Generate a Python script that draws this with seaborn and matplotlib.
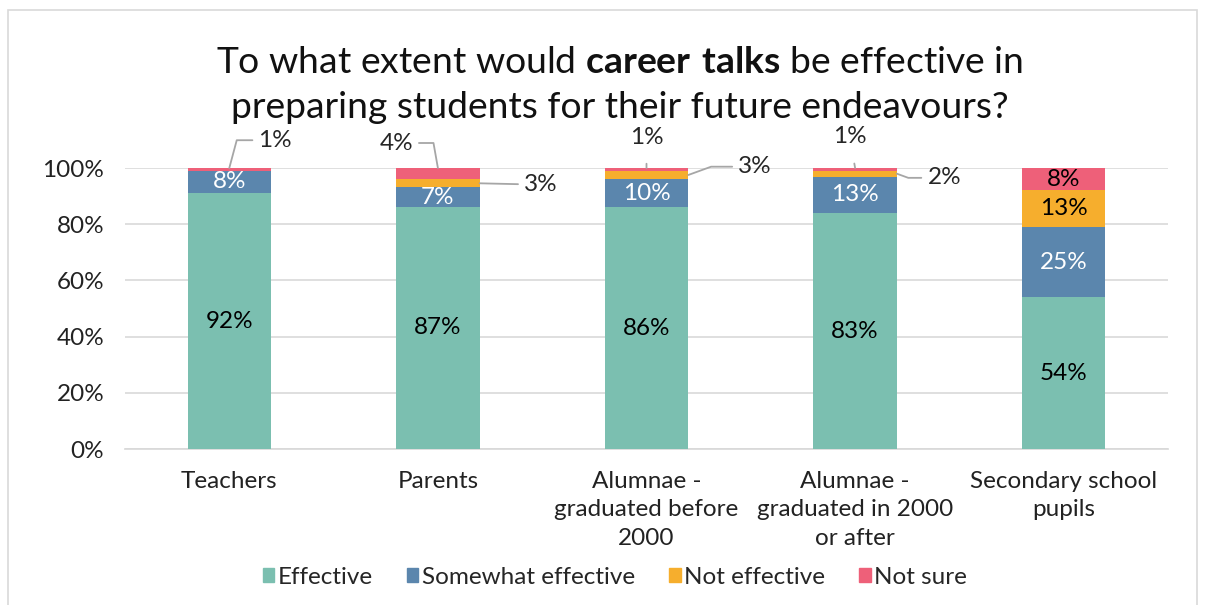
import numpy as np
import pandas as pd
import matplotlib
matplotlib.use("Agg")
import matplotlib.pyplot as plt
import seaborn as sns
from matplotlib.patches import Rectangle

categories = ["Teachers", "Parents", "Alumnae -\ngraduated before\n2000",
              "Alumnae -\ngraduated in 2000\nor after", "Secondary school\npupils"]
series_names = ["Effective", "Somewhat effective", "Not effective", "Not sure"]
effective = [92, 87, 86, 83, 54]
somewhat = [8, 7, 10, 13, 25]
not_effective = [0, 3, 3, 2, 13]
not_sure = [1, 4, 1, 1, 8]
colors = ["#7BBFB0", "#5B86AD", "#F6AE2D", "#EE6079"]
label_colors = ["black", "white", "black", "black"]
yticks = [0, 20, 40, 60, 80, 100]

sns.set_theme(style="white")
plt.rcParams['font.family'] = ['Lato', 'DejaVu Sans']
plt.rcParams['mathtext.fontset'] = 'custom'
plt.rcParams['mathtext.rm'] = 'Lato'
plt.rcParams['mathtext.bf'] = 'Lato:bold'

raw = np.array([effective, somewhat, not_effective, not_sure], dtype=float)
share = raw / raw.sum(axis=0) * 100  # 100% stacked
cum = np.cumsum(share, axis=0)
bottoms = cum - share

fig = plt.figure(figsize=(12.05, 6.05), dpi=100)
ax = fig.add_axes([125/1205, 156/605, 1043/1205, 281/605])

for i in reversed(range(4)):
    d = pd.DataFrame({"cat": categories, "top": cum[i]})
    sns.barplot(data=d, x="cat", y="top", color=colors[i], width=0.4,
                saturation=1, ax=ax, linewidth=0, zorder=3)

FS = 17.5
ax.set_ylim(0, 100)
ax.set_xlim(-0.5, 4.5)
ax.set_yticks(yticks)
ax.set_yticklabels([f"{v}%" for v in yticks], fontsize=FS, color="#222222")
ax.tick_params(axis='y', length=0, pad=15)
ax.set_xticks(range(5))
ax.set_xticklabels(categories, fontsize=FS, color="#222222", linespacing=1.42)
ax.tick_params(axis='x', length=0, pad=16)
ax.set_xlabel("")
ax.set_ylabel("")
for s in ["top", "right", "left"]:
    ax.spines[s].set_visible(False)
ax.spines["bottom"].set_color("#D9D9D9")
ax.grid(axis='y', color="#D9D9D9", linewidth=1.2, zorder=0)
ax.set_axisbelow(True)

# inside labels
fs = 17.5
for j in range(5):
    for i in range(4):
        if share[i, j] >= 5:
            ax.text(j, bottoms[i, j] + share[i, j] / 2, f"{int(raw[i, j])}%",
                    ha="center", va="center", fontsize=fs, color=label_colors[i], zorder=5)

LC = "#A6A6A6"
def ap(conn=None, shrinkA=2):
    d = dict(arrowstyle="-", color=LC, lw=1.3, shrinkA=shrinkA, shrinkB=0)
    if conn:
        d["connectionstyle"] = conn
    return d

# Teachers not sure 1%
ax.annotate(f"{int(raw[3,0])}%", xy=(0, 100), xytext=(21, 20), textcoords="offset points",
            ha="left", va="center", fontsize=fs, annotation_clip=False,
            arrowprops=ap("angle,angleA=180,angleB=75,rad=0"))
# Parents not sure 4%
ax.annotate(f"{int(raw[3,1])}%", xy=(1, 100), xytext=(-18, 18), textcoords="offset points",
            ha="right", va="center", fontsize=fs, annotation_clip=False,
            arrowprops=ap("angle,angleA=0,angleB=100,rad=0"))
# Parents not effective 3%
ax.annotate(f"{int(raw[2,1])}%", xy=(1.2, bottoms[2,1] + share[2,1]/2), xytext=(32, -1),
            textcoords="offset points", ha="left", va="center", fontsize=fs, annotation_clip=False,
            arrowprops=ap())
# Alumnae before not sure 1%
ax.annotate(f"{int(raw[3,2])}%", xy=(2, 100), xytext=(0, 22), textcoords="offset points",
            ha="center", va="center", fontsize=fs, annotation_clip=False,
            arrowprops=ap(shrinkA=9))
# Alumnae before not effective 3%
ax.annotate(f"{int(raw[2,2])}%", xy=(2.2, bottoms[2,2] + share[2,2]/2), xytext=(36, 6),
            textcoords="offset points", ha="left", va="center", fontsize=fs, annotation_clip=False,
            arrowprops=ap("angle,angleA=0,angleB=20,rad=0"))
# Alumnae after not sure 1%
ax.annotate(f"{int(raw[3,3])}%", xy=(3, 100), xytext=(-4, 23), textcoords="offset points",
            ha="center", va="center", fontsize=fs, annotation_clip=False,
            arrowprops=ap(shrinkA=10))
# Alumnae after not effective 2%
ax.annotate(f"{int(raw[2,3])}%", xy=(3.2, bottoms[2,3] + share[2,3]/2), xytext=(22, -3),
            textcoords="offset points", ha="left", va="center", fontsize=fs, annotation_clip=False,
            arrowprops=ap("angle,angleA=0,angleB=-20,rad=0"))

# title
fig.text(620/1205, 1 - 85/605,
         "To what extent would $\\bf{career\\ talks}$ be effective in\npreparing students for their future endeavours?",
         ha="center", va="center", fontsize=26.8, color="#111111", linespacing=1.45)

# legend
handles = [Rectangle((0, 0), 1, 1, color=c) for c in colors]
fig.legend(handles, series_names, loc="center", bbox_to_anchor=(615/1205, 1 - 577/605),
           ncol=4, frameon=False, fontsize=FS, handlelength=0.47, handleheight=0.47,
           handletextpad=0.15, columnspacing=1.4)

# outer chart border
fig.add_artist(Rectangle((8/1205, -0.05), 1189/1205, 1.05 - 10/605, transform=fig.transFigure,
                         fill=False, edgecolor="#D9D9D9", linewidth=1.2))

fig.savefig("out.png", dpi=100)
